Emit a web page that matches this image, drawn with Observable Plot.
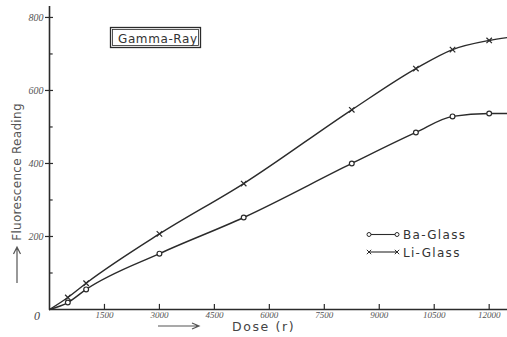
<!DOCTYPE html>
<html>
<head>
<meta charset="utf-8">
<script src="https://cdn.jsdelivr.net/npm/d3@7"></script>
<script src="https://cdn.jsdelivr.net/npm/@observablehq/plot@0.6"></script>
<style>
  html, body { margin: 0; padding: 0; background: #fff; }
  #chart { width: 507px; height: 337px; }
</style>
</head>
<body>
<div id="chart"></div>
<script>
// ---- data ----
const doses    = [0, 500, 1000, 3000, 5300, 8250, 10000, 11000, 12000, 12500];
const liGlass  = [0, 33, 72, 207, 345, 547, 660, 712, 737, 745];
const baGlass  = [0, 19, 55, 153, 252, 400, 485, 529, 537, 537];
const seriesNames = ["Ba-Glass", "Li-Glass"];
const yTickLabels = [200, 400, 600, 800];
const yMinorTicks = [100, 300, 500, 700];
const xTicks = [1500, 3000, 4500, 6000, 7500, 9000, 10500, 12000];
const panelLabel = "Gamma-Ray";
const xTitle = "Dose (r)";
const yTitle = "Fluorescence Reading";

const li = doses.map((d, i) => ({dose: d, value: liGlass[i]}));
const ba = doses.map((d, i) => ({dose: d, value: baGlass[i]}));
const measured = d => d.dose > 0 && d.dose <= 12000;

const ink = "#2b2b2b";
const numFont = "'Liberation Serif', serif";

const chart = Plot.plot({
  width: 507,
  height: 337,
  marginLeft: 49,
  marginRight: 0,
  marginTop: 6,
  marginBottom: 28,
  x: {domain: [0, 12500], label: null},
  y: {domain: [0, 830], label: null},
  style: {background: "#fff", color: ink, fontFamily: "'DejaVu Sans', sans-serif"},
  marks: [
    // axis lines
    Plot.ruleX([0], {stroke: ink, strokeWidth: 1.6}),
    Plot.ruleY([0], {stroke: ink, strokeWidth: 1.6}),
    // y ticks
    Plot.ruleY(yTickLabels, {x1: -110, x2: 110, stroke: ink, strokeWidth: 1.2}),
    Plot.ruleY(yMinorTicks, {x1: 0, x2: 100, stroke: ink, strokeWidth: 1.2}),
    // x ticks (upward)
    Plot.ruleX(xTicks, {y1: 0, y2: 14, stroke: ink, strokeWidth: 1.2}),
    Plot.axisY({ticks: yTickLabels, tickSize: 0, tickPadding: 6, fontSize: 10, label: null,
      fontStyle: "italic", fontFamily: numFont, fill: "#555"}),
    Plot.axisX({ticks: xTicks, tickSize: 0, tickPadding: 2, fontSize: 9, label: null,
      fontStyle: "italic", fontFamily: numFont, fill: "#555",
      tickFormat: d => String(d)}),
    // series
    Plot.line(li, {x: "dose", y: "value", curve: "monotone-x", stroke: ink, strokeWidth: 1.4}),
    Plot.line(ba, {x: "dose", y: "value", curve: "monotone-x", stroke: ink, strokeWidth: 1.4}),
    Plot.dot(li.filter(measured), {x: "dose", y: "value", symbol: "times", r: 2.6, stroke: ink, strokeWidth: 1.2}),
    Plot.dot(ba.filter(measured), {x: "dose", y: "value", symbol: "circle", r: 2.4, fill: "#fff", stroke: ink, strokeWidth: 1.2})
  ]
});
document.getElementById("chart").appendChild(chart);

// ---- annotations (labels, legend, boxed title) ----
const svg = d3.select(chart);
const g = svg.append("g").attr("fill", ink).attr("stroke", "none").attr("text-anchor", "start");

// origin label
g.append("text").attr("x", 37).attr("y", 320).attr("text-anchor", "middle")
  .attr("font-family", numFont).attr("font-style", "italic").attr("font-size", 12)
  .attr("fill", "#444").text("0");

// y title with arrow
g.append("text").attr("transform", "translate(21,172) rotate(-90)")
  .attr("text-anchor", "middle").attr("font-size", 12).attr("letter-spacing", 0.3)
  .attr("fill", "#555").text(yTitle);
g.append("path").attr("d", "M17,283 L17,248 M13.5,254 L17,247 L20.5,254")
  .attr("stroke", "#555").attr("stroke-width", 1.2).attr("fill", "none");

// x title with arrow
g.append("path").attr("d", "M158,326 L198,326 M192,323 L199,326 L192,329")
  .attr("stroke", "#555").attr("stroke-width", 1.2).attr("fill", "none");
g.append("text").attr("x", 232).attr("y", 331).attr("font-size", 12.5)
  .attr("letter-spacing", 1.6).attr("fill", "#444").text(xTitle);

// boxed panel label
g.append("rect").attr("x", 110.5).attr("y", 27.5).attr("width", 90).attr("height", 20)
  .attr("fill", "none").attr("stroke", ink).attr("stroke-width", 1.3);
g.append("rect").attr("x", 112.5).attr("y", 29.5).attr("width", 86).attr("height", 16)
  .attr("fill", "none").attr("stroke", ink).attr("stroke-width", 0.8);
g.append("text").attr("x", 118).attr("y", 42.5).attr("font-size", 12)
  .attr("letter-spacing", 0.6).attr("fill", "#333").text(panelLabel);

// legend
const leg = g.append("g");
const rows = [{name: seriesNames[0], y: 234.5, sym: "o"}, {name: seriesNames[1], y: 252, sym: "x"}];
rows.forEach(r => {
  leg.append("line").attr("x1", 369).attr("x2", 397).attr("y1", r.y).attr("y2", r.y)
    .attr("stroke", ink).attr("stroke-width", 1.1);
  [369, 397].forEach(cx => {
    if (r.sym === "o") {
      leg.append("circle").attr("cx", cx).attr("cy", r.y).attr("r", 2)
        .attr("fill", "#fff").attr("stroke", ink).attr("stroke-width", 1);
    } else {
      leg.append("path").attr("d", `M${cx-2.2},${r.y-2.2} L${cx+2.2},${r.y+2.2} M${cx-2.2},${r.y+2.2} L${cx+2.2},${r.y-2.2}`)
        .attr("stroke", ink).attr("stroke-width", 1);
    }
  });
  leg.append("text").attr("x", 403).attr("y", r.y + 4.5).attr("font-size", 12)
    .attr("letter-spacing", 1.3).attr("fill", "#333").text(r.name);
});
</script>
</body>
</html>
